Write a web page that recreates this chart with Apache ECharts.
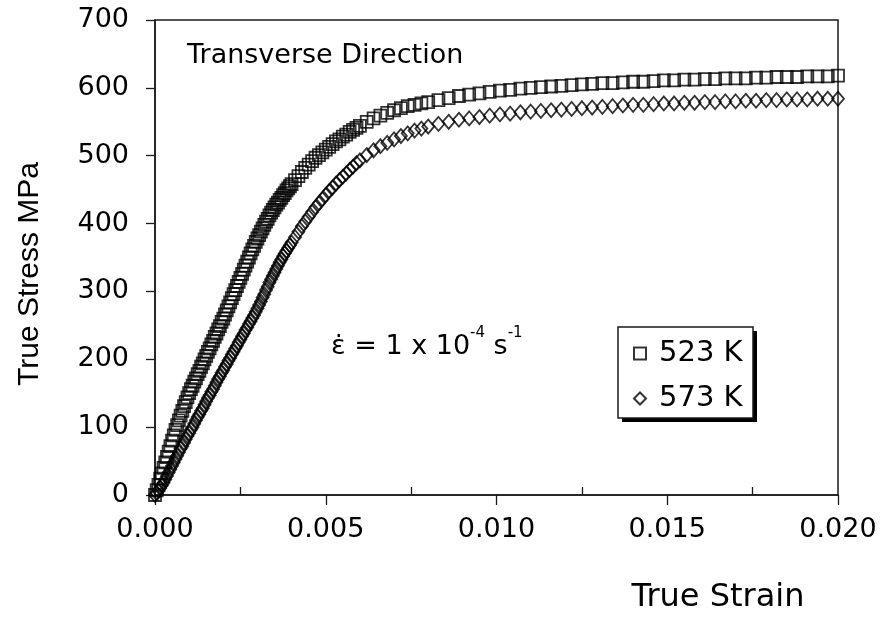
<!DOCTYPE html>
<html><head><meta charset="utf-8">
<script src="https://cdn.jsdelivr.net/npm/echarts@6/dist/echarts.min.js"></script>
<style>html,body{margin:0;padding:0;background:#fff}#c{width:887px;height:619px}</style>
</head><body><div id="c"></div>
<script>
// ---- data ----
const strain = [
  0,0.00005,0.0001,0.00015,0.0002,0.00025,0.0003,0.00035,0.0004,0.00045,
  0.0005,0.00055,0.0006,0.00065,0.0007,0.00075,0.0008,0.00085,0.0009,0.00095,
  0.0010,0.00105,0.0011,0.00115,0.0012,0.00125,0.0013,0.00135,0.0014,0.00145,
  0.0015,0.00155,0.0016,0.00165,0.0017,0.00175,0.0018,0.00185,0.0019,0.00195,
  0.0020,0.00205,0.0021,0.00215,0.0022,0.00225,0.0023,0.00235,0.0024,0.00245,
  0.0025,0.00255,0.0026,0.00265,0.0027,0.00275,0.0028,0.00285,0.0029,0.00295,
  0.0030,0.00305,0.0031,0.00315,0.0032,0.00325,0.0033,0.00335,0.0034,0.00345,
  0.0035,0.00355,0.0036,0.00365,0.0037,0.00375,0.0038,0.00385,0.0039,0.00395,
  0.0040,
  0.0041,0.0042,0.0043,0.0044,0.0045,0.0046,0.0047,0.0048,0.0049,0.0050,
  0.0051,0.0052,0.0053,0.0054,0.0055,0.0056,0.0057,0.0058,0.0059,0.0060,
  0.0062,0.0064,0.0066,0.0068,0.0070,0.0072,0.0074,0.0076,0.0078,0.0080,
  0.0083,0.0086,0.0089,0.0092,0.0095,0.0098,0.0101,0.0104,0.0107,0.0110,
  0.0113,0.0116,0.0119,0.0122,0.0125,0.0128,0.0131,0.0134,0.0137,0.0140,
  0.0143,0.0146,0.0149,0.0152,0.0155,0.0158,0.0161,0.0164,0.0167,0.0170,
  0.0173,0.0176,0.0179,0.0182,0.0185,0.0188,0.0191,0.0194,0.0197,0.0200
];
const stress523 = [
  0,7,15,24,32,40,48,56,64,72,
  80,88,96,103,110,117,124,131,137,144,
  150,156,161,167,172,178,183,189,194,200,
  205,211,216,222,227,233,238,244,249,255,
  260,266,272,278,284,290,296,302,308,314,
  320,326,332,338,344,350,356,362,367,373,
  378,383,388,393,398,403,407,412,416,420,
  424,428,431,435,438,442,445,449,452,455,
  458,
  464,470,476,482,487,492,497,501,505,509,
  513,517,521,524,528,531,535,538,541,544,
  550,555,559,563,567,570,573,575,577,579,
  582,585,588,590,592,594,596,597,599,600,
  601,602,603,604,605,606,607,607,608,609,
  609,610,611,611,612,612,613,613,614,614,
  614,615,615,616,616,616,617,617,617,618
];
const stress573 = [
  0,3,6,10,14,18,23,28,33,38,
  43,48,53,58,63,68,72,77,82,87,
  91,96,100,105,110,115,119,124,128,133,
  138,143,147,152,156,161,166,171,175,180,
  184,189,193,198,202,207,211,216,220,225,
  229,234,238,243,247,252,256,261,265,270,
  275,280,285,291,296,302,307,313,318,323,
  328,333,338,343,347,352,356,360,364,368,
  372,
  380,388,396,403,410,417,424,430,436,442,
  448,453,459,464,469,474,479,484,489,493,
  501,508,514,519,524,529,533,537,540,543,
  547,550,553,555,557,559,561,562,564,565,
  566,567,568,569,570,571,572,573,574,575,
  575,576,577,577,578,578,579,579,580,580,
  581,581,582,582,583,583,583,584,584,584
];
const seriesNames = ['523 K', '573 K'];
const xMinorTicks = [0.0025, 0.0075, 0.0125, 0.0175];
const xMin = 0, xMax = 0.02, xStep = 0.005;
const yMin = 0, yMax = 700, yStep = 100;
const titleText = 'Transverse Direction';
const xName = 'True Strain';
const yName = 'True Stress MPa';

// ---- chart ----
const F = 'DejaVu Sans';
const chart = echarts.init(document.getElementById('c'), null, {renderer: 'canvas'});
const lineCol = '#1a1a1a';
const option = {
  animation: false,
  backgroundColor: '#fff',
  grid: {left: 155, right: 49, top: 20, bottom: 124, show: true,
         borderColor: lineCol, borderWidth: 1.5, backgroundColor: 'transparent'},
  xAxis: [{
    type: 'value', min: xMin, max: xMax, interval: xStep,
    axisLine: {onZero: false, lineStyle: {color: lineCol, width: 1.5}},
    axisTick: {inside: false, length: 10, lineStyle: {color: lineCol, width: 1.3}},
    axisLabel: {margin: 21, fontFamily: F, fontSize: 27, color: '#000',
                formatter: v => v.toFixed(3)},
    splitLine: {show: false}
  }, {
    type: 'value', min: xMin, max: xMax, position: 'bottom',
    axisLine: {show: false, onZero: false},
    axisTick: {show: true, inside: true, length: 8, customValues: xMinorTicks,
               lineStyle: {color: lineCol, width: 1.3}},
    axisLabel: {show: false},
    splitLine: {show: false}
  }],
  yAxis: {
    type: 'value', min: yMin, max: yMax, interval: yStep,
    axisLine: {show: true, onZero: false, lineStyle: {color: lineCol, width: 1.5}},
    axisTick: {show: true, inside: false, length: 9, lineStyle: {color: lineCol, width: 1.3}},
    axisLabel: {margin: 26, fontFamily: F, fontSize: 27, color: '#000'},
    splitLine: {show: false}
  },
  legend: {
    orient: 'vertical', left: 618, top: 327, z: 10,
    padding: [12, 11, 7, 15], itemGap: 16, itemWidth: 12, itemHeight: 12,
    backgroundColor: 'transparent', borderWidth: 0,
    textStyle: {fontFamily: F, fontSize: 29, color: '#000', padding: [0, 0, 0, 8]},
    data: seriesNames
  },
  series: [{
    name: seriesNames[0], type: 'scatter', clip: false,
    symbol: 'rect', symbolSize: 12,
    itemStyle: {color: 'rgba(255,255,255,0)', borderColor: '#000', borderWidth: 1.8},
    data: strain.map((x, i) => [x, stress523[i]])
  }, {
    name: seriesNames[1], type: 'scatter', clip: false,
    symbol: 'diamond', symbolSize: [12, 14],
    itemStyle: {color: 'rgba(255,255,255,0)', borderColor: '#000', borderWidth: 1.8},
    data: strain.map((x, i) => [x, stress573[i]])
  }],
  graphic: [{
    type: 'rect', z: 5, silent: true,
    shape: {x: 622, y: 331, width: 135, height: 91},
    style: {fill: '#000'}
  }, {
    type: 'rect', z: 6, silent: true,
    shape: {x: 618, y: 327, width: 135, height: 91},
    style: {fill: '#fff', stroke: lineCol, lineWidth: 1.5}
  }, {
    type: 'text', z: 10,
    style: {text: titleText, x: 187, y: 56, align: 'left', verticalAlign: 'middle',
            fontFamily: F, fontSize: 27, fill: '#000'}
  }, {
    type: 'text', z: 10,
    style: {text: xName, x: 718, y: 598, align: 'center', verticalAlign: 'middle',
            fontFamily: F, fontSize: 32, fill: '#000'}
  }, {
    type: 'text', z: 10, x: 30, y: 274, rotation: Math.PI / 2,
    style: {text: yName, x: 0, y: 0, align: 'center', verticalAlign: 'middle',
            fontFamily: 'Liberation Sans', fontSize: 30, fill: '#000'}
  }, {
    type: 'text', z: 10,
    style: {
      text: '{e|\u03B5\u0307} = 1 x 10{s|-4} s{s|-1}',
      x: 331, y: 347, align: 'left', verticalAlign: 'middle',
      fontFamily: F, fontSize: 27, lineHeight: 42, fill: '#000',
      rich: {
        e: {fontFamily: F, fontSize: 27, lineHeight: 42},
        s: {fontFamily: F, fontSize: 15, lineHeight: 15, verticalAlign: 'top'}
      }
    }
  }]
};
chart.setOption(option);
</script>
</body></html>
